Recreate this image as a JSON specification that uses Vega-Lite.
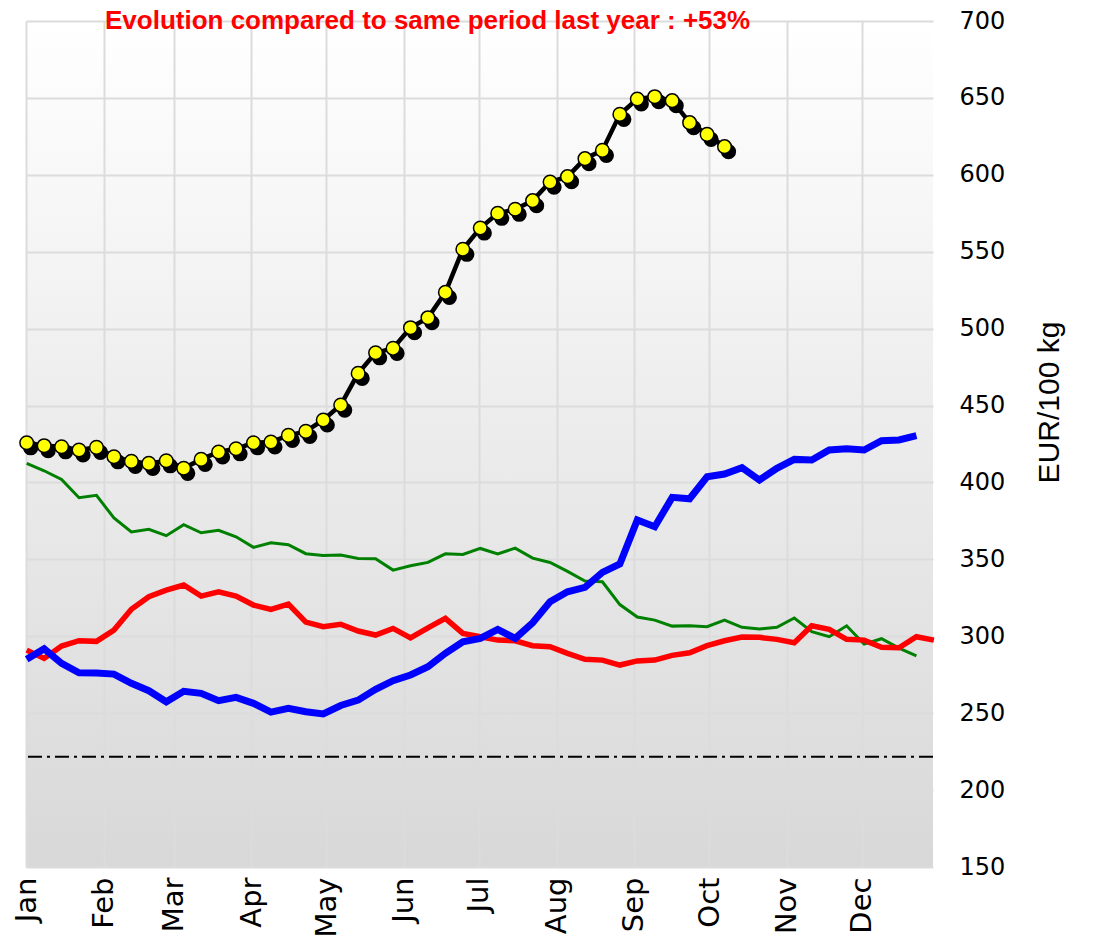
{
  "$schema": "https://vega.github.io/schema/vega-lite/v6.json",
  "width": 907,
  "height": 846,
  "autosize": {"type": "none"},
  "padding": {"left": 26, "top": 21, "right": 165, "bottom": 83},
  "background": "white",
  "title": {
    "text": "Evolution compared to same period last year : +53%",
    "anchor": "start",
    "frame": "group",
    "dx": 79,
    "offset": -25,
    "color": "#ff0000",
    "font": "Liberation Sans",
    "fontSize": 26,
    "fontWeight": "bold"
  },
  "config": {
    "view": {
      "stroke": null,
      "fill": {
        "gradient": "linear",
        "x1": 0, "y1": 0, "x2": 0, "y2": 1,
        "stops": [
          {"offset": 0, "color": "#ffffff"},
          {"offset": 1, "color": "#d8d8d8"}
        ]
      }
    }
  },
  "datasets": {
    "lines": [
      {"s":"2019","w":1,"v":412.4},{"s":"2019","w":2,"v":407.6},{"s":"2019","w":3,"v":402.0},{"s":"2019","w":4,"v":390.1},{"s":"2019","w":5,"v":391.6},{"s":"2019","w":6,"v":376.9},{"s":"2019","w":7,"v":367.8},{"s":"2019","w":8,"v":369.5},{"s":"2019","w":9,"v":365.4},{"s":"2019","w":10,"v":372.5},
      {"s":"2019","w":11,"v":367.3},{"s":"2019","w":12,"v":368.9},{"s":"2019","w":13,"v":364.7},{"s":"2019","w":14,"v":357.8},{"s":"2019","w":15,"v":360.8},{"s":"2019","w":16,"v":359.5},{"s":"2019","w":17,"v":353.7},{"s":"2019","w":18,"v":352.5},{"s":"2019","w":19,"v":352.8},{"s":"2019","w":20,"v":350.6},
      {"s":"2019","w":21,"v":350.4},{"s":"2019","w":22,"v":343.0},{"s":"2019","w":23,"v":345.8},{"s":"2019","w":24,"v":348.0},{"s":"2019","w":25,"v":353.6},{"s":"2019","w":26,"v":353.2},{"s":"2019","w":27,"v":357.1},{"s":"2019","w":28,"v":353.6},{"s":"2019","w":29,"v":357.3},{"s":"2019","w":30,"v":350.8},
      {"s":"2019","w":31,"v":348.0},{"s":"2019","w":32,"v":342.2},{"s":"2019","w":33,"v":335.9},{"s":"2019","w":34,"v":335.4},{"s":"2019","w":35,"v":320.6},{"s":"2019","w":36,"v":312.5},{"s":"2019","w":37,"v":310.5},{"s":"2019","w":38,"v":306.6},{"s":"2019","w":39,"v":306.8},{"s":"2019","w":40,"v":306.2},
      {"s":"2019","w":41,"v":310.5},{"s":"2019","w":42,"v":305.8},{"s":"2019","w":43,"v":304.7},{"s":"2019","w":44,"v":305.8},{"s":"2019","w":45,"v":311.9},{"s":"2019","w":46,"v":303.0},{"s":"2019","w":47,"v":299.7},{"s":"2019","w":48,"v":306.8},{"s":"2019","w":49,"v":294.9},{"s":"2019","w":50,"v":298.4},
      {"s":"2019","w":51,"v":292.3},{"s":"2019","w":52,"v":287.3},

      {"s":"2020","w":1,"v":291.0},{"s":"2020","w":2,"v":285.6},{"s":"2020","w":3,"v":293.6},{"s":"2020","w":4,"v":297.1},{"s":"2020","w":5,"v":296.7},{"s":"2020","w":6,"v":304.0},{"s":"2020","w":7,"v":317.5},{"s":"2020","w":8,"v":325.7},{"s":"2020","w":9,"v":330.0},{"s":"2020","w":10,"v":333.3},
      {"s":"2020","w":11,"v":326.1},{"s":"2020","w":12,"v":328.9},{"s":"2020","w":13,"v":326.1},{"s":"2020","w":14,"v":320.3},{"s":"2020","w":15,"v":317.5},{"s":"2020","w":16,"v":320.9},{"s":"2020","w":17,"v":309.2},{"s":"2020","w":18,"v":306.2},{"s":"2020","w":19,"v":307.8},{"s":"2020","w":20,"v":303.4},
      {"s":"2020","w":21,"v":300.8},{"s":"2020","w":22,"v":305.1},{"s":"2020","w":23,"v":299.0},{"s":"2020","w":24,"v":305.5},{"s":"2020","w":25,"v":311.6},{"s":"2020","w":26,"v":301.9},{"s":"2020","w":27,"v":299.7},{"s":"2020","w":28,"v":297.5},{"s":"2020","w":29,"v":297.1},{"s":"2020","w":30,"v":293.9},
      {"s":"2020","w":31,"v":293.2},{"s":"2020","w":32,"v":288.9},{"s":"2020","w":33,"v":285.0},{"s":"2020","w":34,"v":284.5},{"s":"2020","w":35,"v":281.3},{"s":"2020","w":36,"v":284.0},{"s":"2020","w":37,"v":284.5},{"s":"2020","w":38,"v":287.6},{"s":"2020","w":39,"v":289.3},{"s":"2020","w":40,"v":293.9},
      {"s":"2020","w":41,"v":297.1},{"s":"2020","w":42,"v":299.5},{"s":"2020","w":43,"v":299.3},{"s":"2020","w":44,"v":298.0},{"s":"2020","w":45,"v":295.8},{"s":"2020","w":46,"v":306.8},{"s":"2020","w":47,"v":304.5},{"s":"2020","w":48,"v":298.0},{"s":"2020","w":49,"v":297.5},{"s":"2020","w":50,"v":292.8},
      {"s":"2020","w":51,"v":292.5},{"s":"2020","w":52,"v":299.7},{"s":"2020","w":53,"v":297.5},

      {"s":"2021","w":1,"v":285.0},{"s":"2021","w":2,"v":291.9},{"s":"2021","w":3,"v":282.4},{"s":"2021","w":4,"v":276.3},{"s":"2021","w":5,"v":276.1},{"s":"2021","w":6,"v":275.4},{"s":"2021","w":7,"v":269.4},{"s":"2021","w":8,"v":264.6},{"s":"2021","w":9,"v":257.4},{"s":"2021","w":10,"v":264.2},
      {"s":"2021","w":11,"v":262.9},{"s":"2021","w":12,"v":258.1},{"s":"2021","w":13,"v":260.3},{"s":"2021","w":14,"v":256.4},{"s":"2021","w":15,"v":250.7},{"s":"2021","w":16,"v":253.1},{"s":"2021","w":17,"v":250.9},{"s":"2021","w":18,"v":249.5},{"s":"2021","w":19,"v":255.0},{"s":"2021","w":20,"v":258.5},
      {"s":"2021","w":21,"v":265.5},{"s":"2021","w":22,"v":271.1},{"s":"2021","w":23,"v":274.8},{"s":"2021","w":24,"v":280.2},{"s":"2021","w":25,"v":288.9},{"s":"2021","w":26,"v":296.4},{"s":"2021","w":27,"v":298.6},{"s":"2021","w":28,"v":304.5},{"s":"2021","w":29,"v":298.6},{"s":"2021","w":30,"v":308.8},
      {"s":"2021","w":31,"v":322.4},{"s":"2021","w":32,"v":328.9},{"s":"2021","w":33,"v":331.8},{"s":"2021","w":34,"v":341.5},{"s":"2021","w":35,"v":347.0},{"s":"2021","w":36,"v":375.6},{"s":"2021","w":37,"v":371.2},{"s":"2021","w":38,"v":390.3},{"s":"2021","w":39,"v":389.4},{"s":"2021","w":40,"v":403.7},
      {"s":"2021","w":41,"v":405.5},{"s":"2021","w":42,"v":409.6},{"s":"2021","w":43,"v":401.6},{"s":"2021","w":44,"v":409.2},{"s":"2021","w":45,"v":415.0},{"s":"2021","w":46,"v":414.6},{"s":"2021","w":47,"v":421.1},{"s":"2021","w":48,"v":421.9},{"s":"2021","w":49,"v":421.1},{"s":"2021","w":50,"v":427.1},
      {"s":"2021","w":51,"v":427.6},{"s":"2021","w":52,"v":430.4}
    ],
    "cur": [
      {"w":1,"v":425.8},{"w":2,"v":423.9},{"w":3,"v":423.2},{"w":4,"v":421.1},{"w":5,"v":422.8},{"w":6,"v":416.7},{"w":7,"v":413.7},{"w":8,"v":412.4},{"w":9,"v":414.1},{"w":10,"v":409.2},
      {"w":11,"v":415.0},{"w":12,"v":419.8},{"w":13,"v":421.9},{"w":14,"v":425.8},{"w":15,"v":426.3},{"w":16,"v":430.6},{"w":17,"v":433.2},{"w":18,"v":440.6},{"w":19,"v":450.3},{"w":20,"v":470.9},
      {"w":21,"v":484.3},{"w":22,"v":487.2},{"w":23,"v":500.6},{"w":24,"v":507.1},{"w":25,"v":523.6},{"w":26,"v":551.6},{"w":27,"v":565.4},{"w":28,"v":575.0},{"w":29,"v":577.6},{"w":30,"v":583.2},
      {"w":31,"v":595.3},{"w":32,"v":598.8},{"w":33,"v":610.5},{"w":34,"v":615.9},{"w":35,"v":639.3},{"w":36,"v":649.3},{"w":37,"v":650.8},{"w":38,"v":648.2},{"w":39,"v":633.9},{"w":40,"v":626.3},
      {"w":41,"v":618.3}
    ],
    "ref": [{"v": 221.75}]
  },
  "layer": [
    {
      "data": {"name": "lines"},
      "transform": [{"filter": "datum.s == '2019'"}],
      "mark": {"type": "line", "color": "#008000", "strokeWidth": 3},
      "encoding": {
        "x": {
          "field": "w", "type": "quantitative",
          "scale": {"domain": [0.96, 52.95], "nice": false, "zero": false},
          "axis": {
            "values": [0.96, 5.41, 9.42, 13.87, 18.17, 22.62, 26.92, 31.37, 35.81, 40.12, 44.56, 48.87],
            "labelExpr": "['Jan','Feb','Mar','Apr','May','Jun','Jul','Aug','Sep','Oct','Nov','Dec'][round((datum.value - 0.96) / 4.33)]",
            "title": null,
            "grid": true,
            "gridColor": "#dcdcdc",
            "gridWidth": 2,
            "domain": false,
            "ticks": false,
            "labelAngle": 270,
            "labelFont": "DejaVu Sans",
            "labelFontSize": 29,
            "labelColor": "#000000",
            "labelPadding": 10,
            "labelOverlap": false,
            "labelBound": false,
            "labelFlush": false
          }
        },
        "y": {
          "field": "v", "type": "quantitative",
          "scale": {"domain": [150, 700], "nice": false, "zero": false},
          "axis": {
            "orient": "right",
            "values": [150, 200, 250, 300, 350, 400, 450, 500, 550, 600, 650, 700],
            "title": "EUR/100 kg",
            "titleFont": "Liberation Sans",
            "titleFontSize": 30,
            "titleFontWeight": "normal",
            "titleColor": "#000000",
            "titleAngle": 270,
            "titlePadding": 60,
            "titleY": 381,
            "titleAlign": "center",
            "grid": true,
            "gridColor": "#dcdcdc",
            "gridWidth": 2,
            "domain": false,
            "ticks": false,
            "labelFont": "DejaVu Sans",
            "labelFontSize": 24,
            "labelColor": "#000000",
            "labelPadding": 26,
            "labelOverlap": false,
            "labelFlush": false,
            "labelBound": false
          }
        }
      }
    },
    {
      "data": {"name": "lines"},
      "transform": [{"filter": "datum.s == '2020'"}],
      "mark": {"type": "line", "color": "#ff0000", "strokeWidth": 5.5},
      "encoding": {
        "x": {"field": "w", "type": "quantitative"},
        "y": {"field": "v", "type": "quantitative"}
      }
    },
    {
      "data": {"name": "lines"},
      "transform": [{"filter": "datum.s == '2021'"}],
      "mark": {"type": "line", "color": "#0000ff", "strokeWidth": 7},
      "encoding": {
        "x": {"field": "w", "type": "quantitative"},
        "y": {"field": "v", "type": "quantitative"}
      }
    },
    {
      "data": {"name": "ref"},
      "mark": {"type": "rule", "color": "#000000", "strokeWidth": 2, "strokeDash": [14, 5, 3, 5]},
      "encoding": {
        "y": {"field": "v", "type": "quantitative"}
      }
    },
    {
      "data": {"name": "cur"},
      "mark": {"type": "point", "filled": true, "color": "#000000", "opacity": 1, "size": 230, "xOffset": 4, "yOffset": 5},
      "encoding": {
        "x": {"field": "w", "type": "quantitative"},
        "y": {"field": "v", "type": "quantitative"}
      }
    },
    {
      "data": {"name": "cur"},
      "mark": {"type": "line", "color": "#000000", "strokeWidth": 4.5},
      "encoding": {
        "x": {"field": "w", "type": "quantitative"},
        "y": {"field": "v", "type": "quantitative"}
      }
    },
    {
      "data": {"name": "cur"},
      "mark": {"type": "point", "filled": true, "fill": "#ffff00", "stroke": "#000000", "strokeWidth": 1.5, "opacity": 1, "size": 185},
      "encoding": {
        "x": {"field": "w", "type": "quantitative"},
        "y": {"field": "v", "type": "quantitative"}
      }
    }
  ]
}
